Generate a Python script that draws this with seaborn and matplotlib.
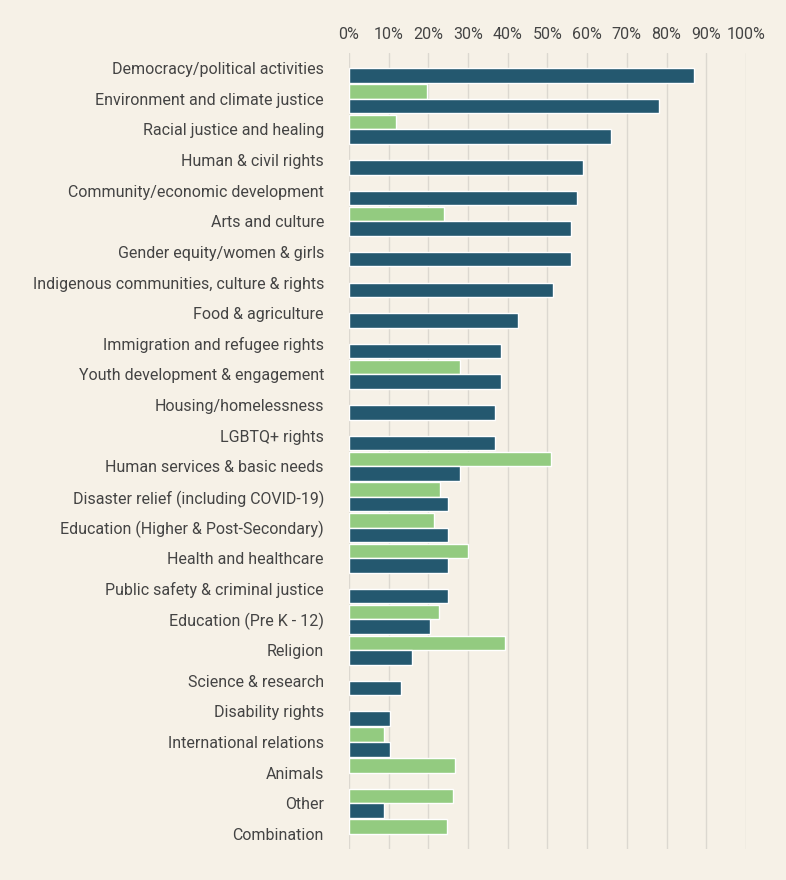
import matplotlib
matplotlib.use("Agg")
import matplotlib.pyplot as plt
import seaborn as sns
import pandas as pd
import numpy as np
from matplotlib.ticker import PercentFormatter

categories = [
    "Democracy/political activities", "Environment and climate justice",
    "Racial justice and healing", "Human & civil rights",
    "Community/economic development", "Arts and culture",
    "Gender equity/women & girls", "Indigenous communities, culture & rights",
    "Food & agriculture", "Immigration and refugee rights",
    "Youth development & engagement", "Housing/homelessness", "LGBTQ+ rights",
    "Human services & basic needs", "Disaster relief (including COVID-19)",
    "Education (Higher & Post-Secondary)", "Health and healthcare",
    "Public safety & criminal justice", "Education (Pre K - 12)", "Religion",
    "Science & research", "Disability rights", "International relations",
    "Animals", "Other", "Combination",
]
nan = np.nan
green_vals = [nan, 19.6, 11.8, nan, nan, 24.0, nan, nan, nan, nan, 28.0, nan, nan,
              50.9, 23.0, 21.4, 30.0, nan, 22.7, 39.3, nan, nan, 8.8, 26.7, 26.2, 24.7]
blue_vals = [86.9, 78.0, 66.0, 59.0, 57.4, 56.0, 56.0, 51.4, 42.6, 38.3, 38.3, 36.8, 36.8,
             28.0, 25.0, 25.0, 25.0, 25.0, 20.4, 16.0, 13.0, 10.3, 10.3, nan, 8.8, nan]

df = pd.concat([
    pd.DataFrame({"Category": categories, "Value": green_vals, "Series": "Green"}),
    pd.DataFrame({"Category": categories, "Value": blue_vals, "Series": "Blue"}),
], ignore_index=True)

bg = "#f6f1e7"
sns.set_theme(style="white")
plt.rcParams['font.family'] = ['Roboto', 'DejaVu Sans']

fig = plt.figure(figsize=(7.86, 8.8), dpi=100, facecolor=bg)
ax = fig.add_axes([0.444, 0.035, 0.505, 0.905])
ax.set_facecolor(bg)
sns.barplot(data=df, y="Category", x="Value", hue="Series", hue_order=["Green", "Blue"],
            palette={"Green": "#8dd873", "Blue": "#175d7c"}, order=categories,
            width=0.95, ax=ax, legend=False)

ax.set_xlim(0, 100)
ax.set_xticks(range(0, 101, 10))
ax.xaxis.set_major_formatter(PercentFormatter(decimals=0))
ax.xaxis.tick_top()
ax.tick_params(axis="x", length=0, labelsize=11.5, colors="#444444", pad=8)
ax.tick_params(axis="y", length=0, labelsize=11.5, colors="#444444", pad=18)
ax.grid(axis="x", color="#dcd8d0", linewidth=1)
ax.set_axisbelow(True)
for s in ax.spines.values():
    s.set_visible(False)
ax.set_xlabel("")
ax.set_ylabel("")

plt.savefig("out.png", dpi=100, facecolor=bg)
